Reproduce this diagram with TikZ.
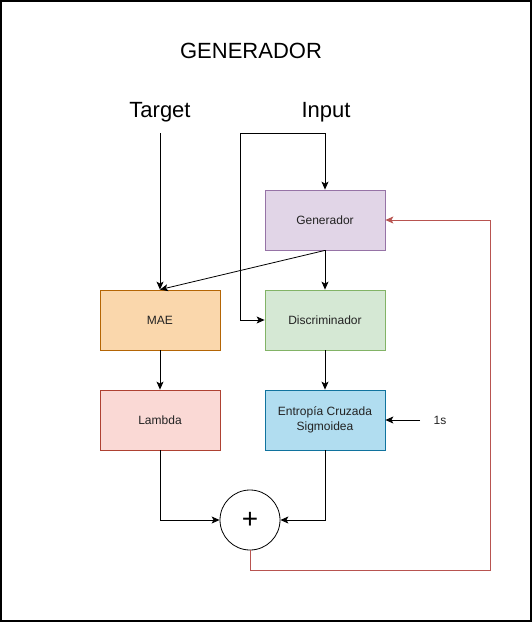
\documentclass[tikz,border=0pt]{standalone}
\usepackage{fontspec}
\setmainfont{Liberation Sans}
\usetikzlibrary{arrows.meta}
\definecolor{genfill}{HTML}{E1D5E7}\definecolor{gendraw}{HTML}{9673A6}
\definecolor{maefill}{HTML}{FAD7AC}\definecolor{maedraw}{HTML}{B46504}
\definecolor{disfill}{HTML}{D5E8D4}\definecolor{disdraw}{HTML}{82B366}
\definecolor{lamfill}{HTML}{FAD9D5}\definecolor{lamdraw}{HTML}{AE4132}
\definecolor{entfill}{HTML}{B1DDF0}\definecolor{entdraw}{HTML}{10739E}
\definecolor{redline}{HTML}{B85450}
\definecolor{txt}{HTML}{222222}
\begin{document}
\begin{tikzpicture}[x=1pt,y=-1pt,
  blockbox/.style={draw, line width=0.8pt, minimum width=120pt, minimum height=60pt, inner sep=0pt, align=center, font=\fontsize{12}{15}\selectfont, text=txt},
  arr/.style={line width=0.8pt, -{Stealth[length=8pt,width=7pt,inset=2pt]}},
  bigtxt/.style={font=\fontsize{22}{26}\selectfont, inner sep=0pt}]
\useasboundingbox (0,0) rectangle (532,622);
\draw[line width=1.2pt] (1,1) rectangle (531,621);
\node[bigtxt] (title) at (251,51) {GENERADOR};
\node[bigtxt] (target) at (160,112) {Target};
\node[bigtxt] (input) at (326,112) {Input};
\coordinate (tstart) at (160,133);
\coordinate (istart) at (325,133);
\node[blockbox, fill=genfill, draw=gendraw] (gen) at (325,220) {Generador};
\node[blockbox, fill=maefill, draw=maedraw] (mae) at (160,320) {MAE};
\node[blockbox, fill=disfill, draw=disdraw] (dis) at (325,320) {Discriminador};
\node[blockbox, fill=lamfill, draw=lamdraw] (lam) at (160,420) {Lambda};
\node[blockbox, fill=entfill, draw=entdraw] (ent) at (325,420) {Entropía Cruzada\\Sigmoidea};
\node[circle, draw, line width=0.8pt, minimum size=60pt, inner sep=0pt, font=\fontsize{28}{30}\selectfont] (sum) at (250,520) {+};
\node[font=\fontsize{12}{15}\selectfont, text=txt] (ones) at (440,420) {1s};
\coordinate (onesl) at (420,420);

\draw[arr] (tstart) -- (mae.north);
\draw[arr] (istart) -- (gen.north);
\draw[arr] (istart) -- (240,133) -- (240,320) -- (dis.west);
\draw[arr] (gen.south) -- (dis.north);
\draw[arr] (gen.south) -- (mae.north);
\draw[arr] (mae.south) -- (lam.north);
\draw[arr] (dis.south) -- (ent.north);
\draw[arr] (onesl) -- (ent.east);
\draw[arr] (lam.south) |- (sum.west);
\draw[arr] (ent.south) |- (sum.east);
\draw[arr, draw=redline] (sum.south) -- (250,570) -- (490,570) -- (490,220) -- (gen.east);
\end{tikzpicture}
\end{document}
